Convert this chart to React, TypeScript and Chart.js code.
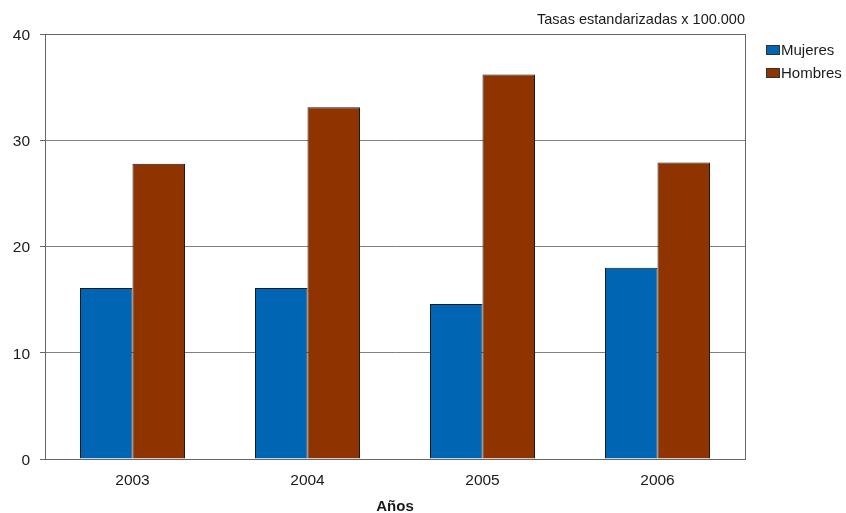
import React, { useEffect, useRef } from "react";
import { Chart, registerables } from "chart.js";

Chart.register(...registerables);

const categories = ["2003", "2004", "2005", "2006"];
const mujeres = [16.1, 16.1, 14.6, 18.0];
const hombres = [27.8, 33.1, 36.2, 27.9];
const seriesNames = ["Mujeres", "Hombres"];
const seriesColors = ["#0066B3", "#8F3300"];
const yTicks = [0, 10, 20, 30, 40];
const topNote = "Tasas estandarizadas x 100.000";
const xTitle = "Años";

const FONT = "'Liberation Sans', Arial, sans-serif";

export default function App() {
  const ref = useRef<HTMLCanvasElement | null>(null);

  useEffect(() => {
    if (!ref.current) return;
    const decor = {
      id: "decor",
      afterDraw(chart: any) {
        const { ctx, chartArea } = chart;
        ctx.save();
        // plot border
        ctx.strokeStyle = "#666666";
        ctx.lineWidth = 1;
        ctx.strokeRect(
          Math.round(chartArea.left) + 0.5,
          Math.round(chartArea.top) + 0.5,
          Math.round(chartArea.right - chartArea.left),
          Math.round(chartArea.bottom - chartArea.top)
        );
        // top note
        ctx.fillStyle = "#1a1a1a";
        ctx.font = `14.5px ${FONT}`;
        ctx.textAlign = "right";
        ctx.textBaseline = "middle";
        ctx.fillText(topNote, chartArea.right, 20);
        // legend
        ctx.textAlign = "left";
        ctx.font = `15px ${FONT}`;
        seriesNames.forEach((name, i) => {
          const y = 50 + i * 23;
          ctx.fillStyle = seriesColors[i];
          ctx.fillRect(766, y - 5, 14, 10);
          ctx.strokeStyle = "#333333";
          ctx.strokeRect(766.5, y - 4.5, 13, 9);
          ctx.fillStyle = "#1a1a1a";
          ctx.fillText(name, 781, y + 1);
        });
        ctx.restore();
      },
    };

    const chart = new Chart(ref.current, {
      type: "bar",
      data: {
        labels: categories,
        datasets: [
          {
            label: seriesNames[0],
            data: mujeres,
            backgroundColor: seriesColors[0],
            borderColor: "#1a1a1a",
            borderWidth: 1,
            categoryPercentage: 0.6,
            barPercentage: 1,
          },
          {
            label: seriesNames[1],
            data: hombres,
            backgroundColor: seriesColors[1],
            borderColor: "#1a1a1a",
            borderWidth: 1,
            categoryPercentage: 0.6,
            barPercentage: 1,
          },
        ],
      },
      options: {
        responsive: false,
        animation: false,
        layout: { padding: { left: 0, right: 101, top: 34, bottom: 0 } },
        plugins: {
          legend: { display: false },
          title: { display: false },
          tooltip: { enabled: false },
        },
        scales: {
          x: {
            grid: { display: false, drawTicks: false },
            border: { display: true, color: "#666666" },
            ticks: {
              color: "#1a1a1a",
              font: { family: FONT, size: 15.5 },
              padding: 12,
            },
            title: {
              display: true,
              text: xTitle,
              color: "#1a1a1a",
              font: { family: FONT, size: 15, weight: "bold", lineHeight: 1 },
              padding: { top: 0, bottom: -1 },
            },
            afterFit(scale: any) {
              scale.height = 54;
            },
          },
          y: {
            min: 0,
            max: 40,
            afterBuildTicks(scale: any) {
              scale.ticks = yTicks.map((v) => ({ value: v }));
            },
            grid: { color: "#808080", lineWidth: 1, drawTicks: true, tickLength: 5, tickColor: "#666666" },
            border: { display: true, color: "#666666" },
            ticks: {
              color: "#1a1a1a",
              font: { family: FONT, size: 15.5 },
              padding: 10,
              labelOffset: 1.5,
            },
            afterFit(scale: any) {
              scale.width = 45;
            },
          },
        },
      },
      plugins: [decor],
    });
    return () => chart.destroy();
  }, []);

  return (
    <div style={{ position: "absolute", left: 0, top: 0, width: 846, height: 513, background: "#fff" }}>
      <canvas ref={ref} width={846} height={513} />
    </div>
  );
}
